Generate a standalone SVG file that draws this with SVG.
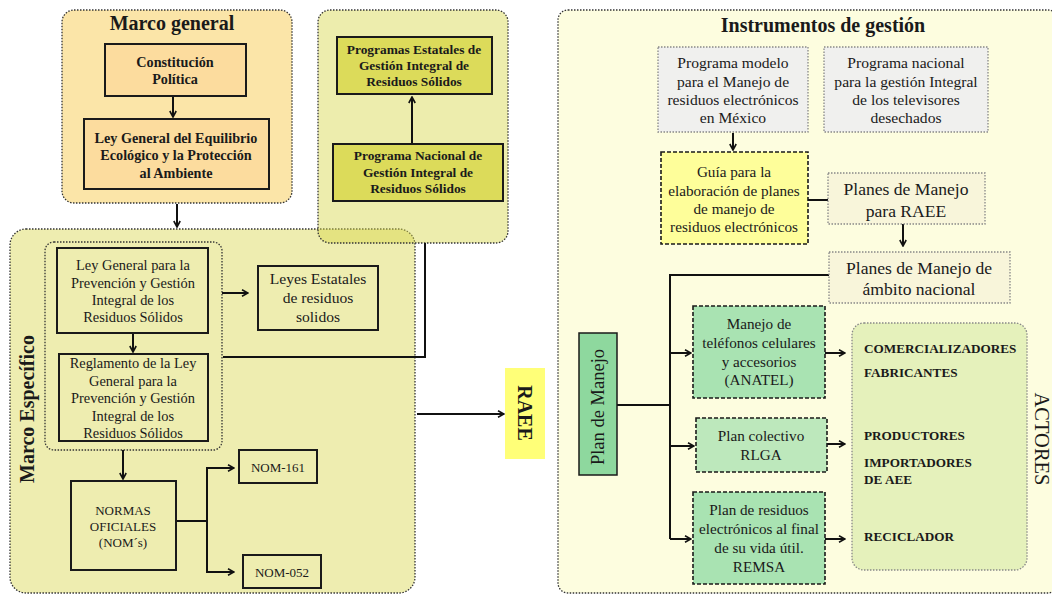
<svg xmlns="http://www.w3.org/2000/svg" width="1052" height="595" viewBox="0 0 1052 595">
  <style>
    text { font-family: "Liberation Serif", "Times New Roman", serif; fill: #1a1a1a; }
    .title { font-size: 20px; font-weight: bold; }
    .b13 { font-size: 14.2px; font-weight: bold; text-anchor: middle; }
    .r14 { font-size: 14.4px; text-anchor: middle; }
    .r15 { font-size: 15.2px; text-anchor: middle; }
    .r16 { font-size: 17.6px; text-anchor: middle; }
    .actor { font-size: 13.2px; font-weight: bold; }
    .box { stroke: #1a1a1a; stroke-width: 2; }
    .dash { stroke: #1a1a1a; stroke-width: 1.6; stroke-dasharray: 4 2; }
    .dot { stroke: #888; stroke-width: 1.3; stroke-dasharray: 1.5 1.5; }
    .cont { stroke: #333; stroke-width: 1.3; stroke-dasharray: 1.5 1.5; }
    .link { stroke: #111; stroke-width: 2; fill: none; }
    .arrow { marker-end: url(#head); }
  </style>
  <defs>
    <marker id="head" viewBox="0 0 10 10" refX="9" refY="5" markerWidth="8" markerHeight="8" orient="auto" markerUnits="userSpaceOnUse">
      <path d="M1.5,1 L9,5 L1.5,9" fill="none" stroke="#111" stroke-width="2"/>
    </marker>
  </defs>
  <rect width="1052" height="595" fill="#ffffff"/>

  <!-- Containers -->
  <g id="marco-general">
    <rect x="62" y="10" width="230" height="193" rx="12" fill="#fbe5a8" class="cont"/>
    <text class="title" x="172" y="30" text-anchor="middle">Marco general</text>
  </g>
  <g id="marco-especifico">
    <rect x="10" y="229" width="405" height="364" rx="16" fill="#eeedb0" class="cont"/>
    <text class="title" transform="translate(34,409) rotate(-90)" text-anchor="middle">Marco Específico</text>
  </g>
  <g id="programas">
    <rect x="318" y="10" width="190" height="233" rx="12" fill="#d8d64a" fill-opacity="0.45" class="cont"/>
  </g>
  <g id="instrumentos">
    <rect x="558" y="10" width="500" height="583" rx="10" fill="#fdfddf" class="cont"/>
    <text class="title" x="823" y="32" text-anchor="middle">Instrumentos de gestión</text>
  </g>
  <g id="grupo-ley">
    <rect x="45" y="242" width="177" height="208" rx="9" fill="none" class="cont"/>
  </g>

  <!-- Connectors -->
  <g id="connectors">
    <line class="link arrow" x1="173" y1="97" x2="173" y2="117"/>
    <line class="link arrow" x1="177" y1="204" x2="177" y2="227"/>
    <line class="link arrow" x1="412" y1="143" x2="412" y2="97"/>
    <polyline class="link" points="223,357 425,357 425,243"/>
    <line class="link arrow" x1="222" y1="293" x2="248" y2="293"/>
    <line class="link arrow" x1="133" y1="333" x2="133" y2="352"/>
    <line class="link arrow" x1="123" y1="450" x2="123" y2="479"/>
    <polyline class="link" points="176,521 207,521"/>
    <polyline class="link arrow" points="207,521 207,468 234,468"/>
    <polyline class="link arrow" points="207,521 207,572 234,572"/>
    <line class="link arrow" x1="417" y1="414" x2="504" y2="414"/>
    <line class="link arrow" x1="733" y1="133" x2="733" y2="150"/>
    <line class="link" x1="808" y1="200" x2="828" y2="200"/>
    <line class="link arrow" x1="903" y1="224" x2="903" y2="246"/>
    <polyline class="link" points="829,275 670,275 670,539"/>
    <line class="link" x1="617" y1="405" x2="670" y2="405"/>
    <line class="link arrow" x1="670" y1="353" x2="691" y2="353"/>
    <line class="link arrow" x1="670" y1="446" x2="694" y2="446"/>
    <line class="link arrow" x1="670" y1="539" x2="691" y2="539"/>
    <line class="link arrow" x1="825" y1="353" x2="845" y2="353"/>
    <line class="link arrow" x1="827" y1="444" x2="845" y2="444"/>
    <line class="link arrow" x1="825" y1="539" x2="845" y2="539"/>
  </g>

  <!-- Marco general -->
  <g id="constitucion">
    <rect x="105" y="44" width="141" height="52" fill="#fcdc9e" class="box"/>
    <text class="b13" x="175" y="67">Constitución</text>
    <text class="b13" x="175" y="84">Política</text>
  </g>
  <g id="lgeepa">
    <rect x="84" y="119" width="185" height="70" fill="#fcdc9e" class="box"/>
    <text class="b13" x="176" y="143">Ley General del Equilibrio</text>
    <text class="b13" x="176" y="160">Ecológico y la Protección</text>
    <text class="b13" x="176" y="178">al Ambiente</text>
  </g>

  <!-- Programas -->
  <g id="programas-estatales">
    <rect x="337" y="37" width="155" height="57" fill="#dcdb5a" class="box"/>
    <text class="b13" x="414" y="54" style="font-size:13.4px">Programas Estatales de</text>
    <text class="b13" x="414" y="70" style="font-size:13.4px">Gestión Integral de</text>
    <text class="b13" x="414" y="86" style="font-size:13.4px">Residuos Sólidos</text>
  </g>
  <g id="programa-nacional">
    <rect x="333" y="144" width="170" height="57" fill="#dcdb5a" class="box"/>
    <text class="b13" x="418" y="160" style="font-size:13.4px">Programa Nacional de</text>
    <text class="b13" x="418" y="177" style="font-size:13.4px">Gestión Integral de</text>
    <text class="b13" x="418" y="193" style="font-size:13.4px">Residuos Sólidos</text>
  </g>

  <!-- Marco específico -->
  <g id="lgpgir">
    <rect x="57" y="248" width="151" height="85" fill="#eeedb0" class="box"/>
    <text class="r14" x="133" y="270">Ley General para la</text>
    <text class="r14" x="133" y="288">Prevención y Gestión</text>
    <text class="r14" x="133" y="305">Integral de los</text>
    <text class="r14" x="133" y="322">Residuos Sólidos</text>
  </g>
  <g id="leyes-estatales">
    <rect x="258" y="266" width="120" height="64" fill="#eeedb0" class="box"/>
    <text class="r14" x="318" y="284" style="font-size:15.6px">Leyes Estatales</text>
    <text class="r14" x="318" y="303" style="font-size:15.6px">de residuos</text>
    <text class="r14" x="318" y="322" style="font-size:15.6px">solidos</text>
  </g>
  <g id="reglamento">
    <rect x="59" y="354" width="149" height="87" fill="#eeedb0" class="box"/>
    <text class="r14" x="133" y="368">Reglamento de la Ley</text>
    <text class="r14" x="133" y="386">General para la</text>
    <text class="r14" x="133" y="403">Prevención y Gestión</text>
    <text class="r14" x="133" y="421">Integral de los</text>
    <text class="r14" x="133" y="438">Residuos Sólidos</text>
  </g>
  <g id="normas">
    <rect x="71" y="481" width="105" height="89" fill="#eeedb0" class="box"/>
    <text class="r14" x="123" y="515" style="font-size:13px">NORMAS</text>
    <text class="r14" x="123" y="531" style="font-size:13px">OFICIALES</text>
    <text class="r14" x="123" y="547" style="font-size:13px">(NOM´s)</text>
  </g>
  <g id="nom-161">
    <rect x="239" y="450" width="78" height="33" fill="#eeedb0" class="box"/>
    <text class="r14" x="278" y="472" style="font-size:13px">NOM-161</text>
  </g>
  <g id="nom-052">
    <rect x="243" y="555" width="78" height="33" fill="#eeedb0" class="box"/>
    <text class="r14" x="282" y="577" style="font-size:13px">NOM-052</text>
  </g>

  <!-- RAEE -->
  <g id="raee">
    <rect x="505" y="368" width="40" height="91" fill="#ffff78"/>
    <text class="title" transform="translate(518,413) rotate(90)" text-anchor="middle">RAEE</text>
  </g>

  <!-- Instrumentos de gestión -->
  <g id="programa-modelo">
    <rect x="658" y="47" width="150" height="85" fill="#f0f0ee" class="dot"/>
    <text class="r15" x="733" y="68" style="font-size:15.6px">Programa modelo</text>
    <text class="r15" x="733" y="87" style="font-size:15.6px">para el Manejo de</text>
    <text class="r15" x="733" y="105" style="font-size:15.6px">residuos electrónicos</text>
    <text class="r15" x="733" y="123" style="font-size:15.6px">en México</text>
  </g>
  <g id="programa-televisores">
    <rect x="824" y="47" width="164" height="85" fill="#f0f0ee" class="dot"/>
    <text class="r15" x="906" y="68" style="font-size:15.6px">Programa nacional</text>
    <text class="r15" x="906" y="87" style="font-size:15.6px">para la gestión Integral</text>
    <text class="r15" x="906" y="105" style="font-size:15.6px">de los televisores</text>
    <text class="r15" x="906" y="123" style="font-size:15.6px">desechados</text>
  </g>
  <g id="guia">
    <rect x="661" y="152" width="147" height="92" fill="#fefe9a" class="dash"/>
    <text class="r15" x="734" y="177">Guía para la</text>
    <text class="r15" x="734" y="196">elaboración de planes</text>
    <text class="r15" x="734" y="214">de manejo de</text>
    <text class="r15" x="734" y="232">residuos electrónicos</text>
  </g>
  <g id="planes-raee">
    <rect x="828" y="173" width="157" height="51" fill="#f8f5da" class="dot"/>
    <text class="r16" x="906" y="195">Planes de Manejo</text>
    <text class="r16" x="906" y="217">para RAEE</text>
  </g>
  <g id="planes-nacional">
    <rect x="829" y="252" width="181" height="51" fill="#f8f5da" class="dot"/>
    <text class="r16" x="919" y="274">Planes de Manejo de</text>
    <text class="r16" x="919" y="295">ámbito nacional</text>
  </g>
  <g id="plan-manejo">
    <rect x="579" y="333" width="38" height="142" fill="#8ed89e" class="box" style="stroke-width:1.5"/>
    <text class="r16" transform="translate(604,407) rotate(-90)" style="font-size:18.5px">Plan de Manejo</text>
  </g>
  <g id="anatel">
    <rect x="693" y="306" width="132" height="92" fill="#a9e3b2" class="dash"/>
    <text class="r15" x="759" y="329">Manejo de</text>
    <text class="r15" x="759" y="348">teléfonos celulares</text>
    <text class="r15" x="759" y="367">y accesorios</text>
    <text class="r15" x="759" y="385">(ANATEL)</text>
  </g>
  <g id="rlga">
    <rect x="696" y="418" width="131" height="54" fill="#bde8bc" class="dash"/>
    <text class="r15" x="761" y="441">Plan colectivo</text>
    <text class="r15" x="761" y="460">RLGA</text>
  </g>
  <g id="remsa">
    <rect x="693" y="492" width="132" height="92" fill="#a9e3b2" class="dash"/>
    <text class="r15" x="759" y="515">Plan de residuos</text>
    <text class="r15" x="759" y="534">electrónicos al final</text>
    <text class="r15" x="759" y="553">de su vida útil.</text>
    <text class="r15" x="759" y="572">REMSA</text>
  </g>
  <g id="actores">
    <rect x="852" y="323" width="175" height="247" rx="12" fill="#e5f1bb" class="dot"/>
    <text class="actor" x="864" y="353">COMERCIALIZADORES</text>
    <text class="actor" x="864" y="377">FABRICANTES</text>
    <text class="actor" x="864" y="440">PRODUCTORES</text>
    <text class="actor" x="864" y="467">IMPORTADORES</text>
    <text class="actor" x="864" y="484">DE AEE</text>
    <text class="actor" x="864" y="541">RECICLADOR</text>
    <text transform="translate(1035,439) rotate(90)" text-anchor="middle" style="font-size:20.5px">ACTORES</text>
  </g>
</svg>
